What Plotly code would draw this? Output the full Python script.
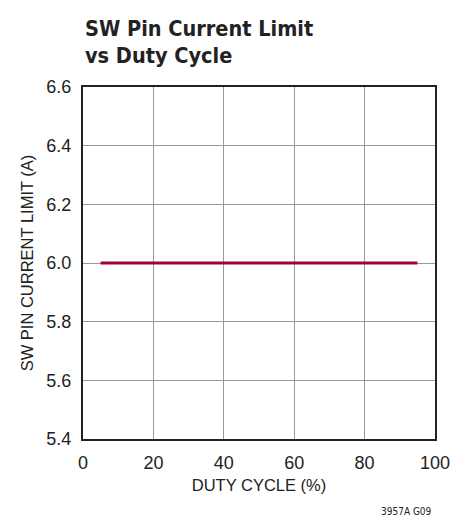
import plotly.graph_objects as go

# SW pin current limit vs duty cycle
duty_cycle = [5, 95]
current_limit = [6.0, 6.0]

x_ticks = [0, 20, 40, 60, 80, 100]
y_ticks = [5.4, 5.6, 5.8, 6.0, 6.2, 6.4, 6.6]

TITLE_FONT = "DejaVu Sans Condensed, Liberation Sans Narrow, sans-serif"
AXIS_FONT = "Liberation Sans, Arial, sans-serif"
INK = "#222"

fig = go.Figure()
fig.add_trace(go.Scatter(
    x=duty_cycle, y=current_limit, mode="lines",
    line=dict(color="#a3003c", width=3),
    showlegend=False, hoverinfo="skip",
))

L, R, T, B = 83, 33, 87, 84
W, H = 468, 523

fig.update_layout(
    width=W, height=H,
    margin=dict(l=L, r=R, t=T, b=B),
    paper_bgcolor="white", plot_bgcolor="white",
    font=dict(family=AXIS_FONT, color=INK),
)

fig.update_xaxes(
    range=[0, 100], tickvals=x_ticks, ticktext=[str(v) for v in x_ticks],
    showgrid=True, gridcolor="#999", gridwidth=1,
    showline=True, linecolor=INK, linewidth=2, mirror=True,
    ticks="outside", ticklen=6, tickcolor="rgba(0,0,0,0)",
    tickfont=dict(size=18, family=AXIS_FONT, color=INK),
    title=dict(text="DUTY CYCLE (%)", font=dict(size=16.5, family=AXIS_FONT, color=INK), standoff=8),
    zeroline=False,
)
fig.update_yaxes(
    range=[5.4, 6.6], tickvals=y_ticks, ticktext=[f"{v:.1f}" for v in y_ticks],
    showgrid=True, gridcolor="#999", gridwidth=1,
    showline=True, linecolor=INK, linewidth=2, mirror=True,
    ticks="outside", ticklen=6, tickcolor="rgba(0,0,0,0)",
    tickfont=dict(size=18, family=AXIS_FONT, color=INK),
    title=dict(text="SW PIN CURRENT LIMIT (A)", font=dict(size=16.5, family=AXIS_FONT, color=INK), standoff=9),
    zeroline=False,
)

pw, ph = W - L - R, H - T - B
def px_to_paper(px, py):
    return (px - L) / pw, 1 - (py - T) / ph

# two-line chart heading, lines placed individually for tight leading
for line, cy in (("SW Pin Current Limit", 29), ("vs Duty Cycle", 55)):
    tx, ty = px_to_paper(83, cy)
    fig.add_annotation(
        x=tx, y=ty, xref="paper", yref="paper", xanchor="left", yanchor="middle",
        text=f"<b>{line}</b>",
        font=dict(size=21.5, family=TITLE_FONT, color=INK), showarrow=False,
    )

fx, fy = px_to_paper(406, 512)
fig.add_annotation(
    x=fx, y=fy, xref="paper", yref="paper", xanchor="center", yanchor="middle",
    text="3957A G09", font=dict(size=10, family=TITLE_FONT, color=INK), showarrow=False,
)

fig.write_html("out.html")
